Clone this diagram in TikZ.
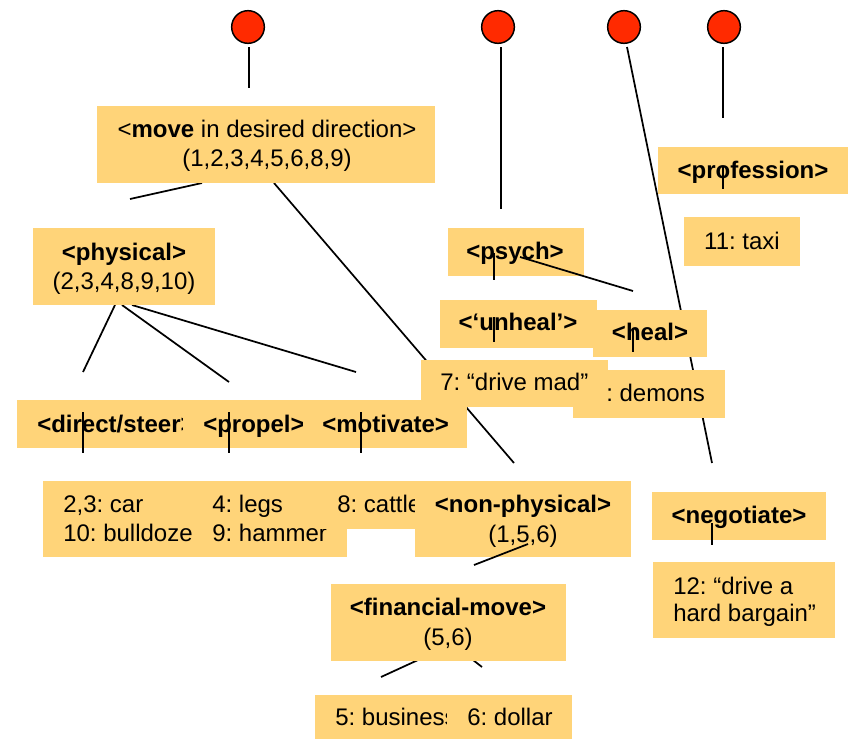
\documentclass[tikz,border=0pt]{standalone}
\usepackage{fontspec}
\setmainfont{Liberation Sans}
\usetikzlibrary{fit}
\definecolor{boxfill}{RGB}{255,212,121}
\definecolor{pinred}{RGB}{255,42,0}
\frenchspacing

\begin{document}
\begin{tikzpicture}[x=0.75pt,y=-0.75pt,
  box/.style={fill=boxfill,draw=none,inner sep=0pt,outer sep=0pt},
  lbl/.style={inner sep=0pt,anchor=base,font=\fontsize{18}{21.6}\selectfont},
  lbll/.style={lbl,anchor=base west},
  link/.style={draw=black,line width=1.3pt},
  pin/.style={circle,draw=black,line width=1.1pt,fill=pinred,minimum size=24.5pt,inner sep=0pt}]
\useasboundingbox (0,0) rectangle (848,739);

% connector end points
\coordinate (pinAb) at (249,47);   \coordinate (moveIn) at (249,88);
\coordinate (pinBb) at (501,47);   \coordinate (psychIn) at (501,209);
\coordinate (pinCb) at (627,47);   \coordinate (negIn) at (712,463);
\coordinate (pinDb) at (723,47);   \coordinate (profIn) at (723,118);
\coordinate (movePh) at (202,183); \coordinate (physIn) at (130,199);
\coordinate (moveNp) at (274,183); \coordinate (nonphIn) at (514,463);
\coordinate (physA) at (115,305);  \coordinate (dirIn) at (83,372);
\coordinate (physB) at (122,305);  \coordinate (propIn) at (229,382);
\coordinate (physC) at (132,305);  \coordinate (motIn) at (356,372);
\coordinate (finA) at (418,660);   \coordinate (busIn) at (381,677);
\coordinate (finB) at (473,660);   \coordinate (dolIn) at (482,667);

% connectors lying beneath the boxes
\draw[link] (pinAb) -- (moveIn);
\draw[link] (pinBb) -- (psychIn);
\draw[link] (pinCb) -- (negIn);
\draw[link] (pinDb) -- (profIn);
\draw[link] (physIn) -- (movePh);
\draw[link] (moveNp) -- (nonphIn);
\draw[link] (physA) -- (dirIn);
\draw[link] (physB) -- (propIn);
\draw[link] (physC) -- (motIn);
\draw[link] (finA) -- (busIn);
\draw[link] (finB) -- (dolIn);

% pins along the top
\node[pin] (pinA) at (248,27) {};
\node[pin] (pinB) at (498,27) {};
\node[pin] (pinC) at (624,27) {};
\node[pin] (pinD) at (724,27) {};

% move
\node[box,fit={(97,106) (435,183)}] (move) {};
\node[lbl] (moveT1) at (267,137) {<\textbf{move} in desired direction>};
\node[lbl] (moveT2) at (267,166) {(1,2,3,4,5,6,8,9)};

% physical
\node[box,fit={(33,228) (215,305)}] (phys) {};
\node[lbl] (physT1) at (124,260) {\textbf{<physical>}};
\node[lbl] (physT2) at (124,289) {(2,3,4,8,9,10)};

% physical sub-senses
\node[box,fit={(17,400) (200,448)}] (dir) {};
\node[lbll] (dirT) at (37,432) {\textbf{<direct/steer>}};
\node[box,fit={(183,400) (320,448)}] (prop) {};
\node[lbll] (propT) at (203,432) {\textbf{<propel>}};
\node[box,fit={(303,400) (467,448)}] (mot) {};
\node[lbll] (motT) at (322,432) {\textbf{<motivate>}};

% examples of physical senses
\node[box,fit={(43,481) (210,557)}] (exA) {};
\node[lbll] (exA1) at (63,512) {2,3: car};
\node[lbll] (exA2) at (63,541) {10: bulldozer};
\node[box,fit={(192,481) (347,557)}] (exB) {};
\node[lbll] (exB1) at (212,512) {4: legs};
\node[lbll] (exB2) at (212,541) {9: hammer};
\node[box,fit={(320,481) (430,529)}] (exC) {};
\node[lbll] (exC1) at (337,512) {8: cattle};

% non-physical
\node[box,fit={(415,481) (631,557)}] (nonph) {};
\node[lbl] (nonphT1) at (523,512) {\textbf{<non-physical>}};
\node[lbl] (nonphT2) at (523,542) {(1,5,6)};

% financial-move
\node[box,fit={(331,584) (566,661)}] (fin) {};
\node[lbl] (finT1) at (448,615) {\textbf{<financial-move>}};
\node[lbl] (finT2) at (448,645) {(5,6)};
\node[box,fit={(315,695) (460,739)}] (bus) {};
\node[lbll] (busT) at (335,725) {5: business};
\node[box,fit={(447,695) (572,739)}] (dol) {};
\node[lbll] (dolT) at (467,725) {6: dollar};

% psych
\node[box,fit={(448,228) (584,276)}] (psych) {};
\node[lbl] (psychT) at (515,259) {\textbf{<psych>}};
\node[box,fit={(440,300) (597,348)}] (unheal) {};
\node[lbl] (unhealT) at (518,330) {\textbf{<‘unheal’>}};
\node[box,fit={(593,310) (707,357)}] (heal) {};
\node[lbl] (healT) at (650,340) {\textbf{<heal>}};
\node[box,fit={(573,370) (725,418)}] (dem) {};
\node[lbll] (demT) at (606,401) {: demons};
\node[box,fit={(421,360) (608,407)}] (mad) {};
\node[lbll] (madT) at (440,390) {7: “drive mad”};

% profession
\node[box,fit={(658,147) (848,194)}] (prof) {};
\node[lbl] (profT) at (753,178) {\textbf{<profession>}};
\node[box,fit={(684,217) (800,266)}] (taxi) {};
\node[lbl] (taxiT) at (742,249) {11: taxi};

% negotiate
\node[box,fit={(652,492) (826,540)}] (neg) {};
\node[lbl] (negT) at (739,523) {\textbf{<negotiate>}};
\node[box,fit={(653,562) (835,638)}] (barg) {};
\node[lbll] (bargT1) at (673,594) {12: “drive a};
\node[lbll] (bargT2) at (673,621) {hard bargain”};

% connectors drawn over the boxes
\coordinate (dirTa) at (83,412);    \coordinate (dirTb) at (83,453);
\coordinate (propTa) at (229,412);  \coordinate (propTb) at (229,453);
\coordinate (motTa) at (361,412);   \coordinate (motTb) at (361,453);
\coordinate (psyTa) at (494,253);   \coordinate (psyTb) at (494,280);
\coordinate (psyH) at (520,257);    \coordinate (healIn) at (633,291);
\coordinate (unTa) at (494,317);    \coordinate (unTb) at (494,342);
\coordinate (heTa) at (633,328);    \coordinate (heTb) at (633,352);
\coordinate (prTa) at (723,167);    \coordinate (prTb) at (723,189);
\coordinate (ngTa) at (712,523);    \coordinate (ngTb) at (712,545);
\coordinate (nonphF) at (528,544);  \coordinate (finIn) at (474,565);

\draw[link] (dirTa) -- (dirTb);
\draw[link] (propTa) -- (propTb);
\draw[link] (motTa) -- (motTb);
\draw[link] (psyTa) -- (psyTb);
\draw[link] (psyH) -- (healIn);
\draw[link] (unTa) -- (unTb);
\draw[link] (heTa) -- (heTb);
\draw[link] (prTa) -- (prTb);
\draw[link] (ngTa) -- (ngTb);
\draw[link] (nonphF) -- (finIn);
\end{tikzpicture}
\end{document}
